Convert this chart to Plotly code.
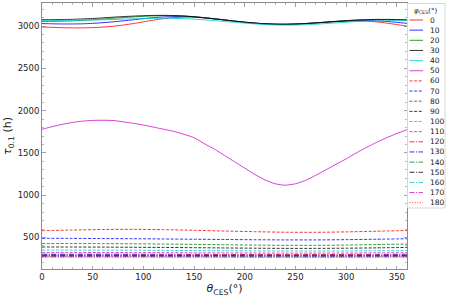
import plotly.graph_objects as go

# ---- data ----
theta = list(range(0, 361, 10))          # theta_CES (deg), fine grid
theta_c = list(range(0, 361, 30))        # coarse grid for the flat curves

phi_labels = ["0", "10", "20", "30", "40", "50", "60", "70", "80", "90",
              "100", "110", "120", "130", "140", "150", "160", "170", "180"]

tau_0 = [2990, 2985, 2981, 2979, 2979, 2982, 2988, 2998, 3012, 3030, 3050, 3070, 3088,
         3100, 3106, 3105, 3097, 3085, 3071, 3057, 3044, 3034, 3027, 3023, 3022, 3025,
         3031, 3038, 3046, 3053, 3058, 3060, 3058, 3050, 3035, 3018, 3000]
tau_10 = [3030, 3027, 3025, 3025, 3027, 3032, 3040, 3050, 3062, 3075, 3088, 3100, 3108,
          3113, 3114, 3110, 3100, 3088, 3074, 3060, 3047, 3036, 3028, 3023, 3022, 3024,
          3029, 3036, 3045, 3053, 3060, 3066, 3066, 3062, 3055, 3044, 3032]
tau_20 = [3055, 3056, 3058, 3062, 3068, 3075, 3083, 3092, 3100, 3108, 3115, 3120, 3123,
          3122, 3118, 3110, 3098, 3085, 3072, 3058, 3045, 3034, 3026, 3021, 3020, 3023,
          3029, 3037, 3046, 3056, 3064, 3071, 3076, 3078, 3077, 3073, 3068]
tau_30 = [3075, 3076, 3078, 3080, 3085, 3090, 3097, 3105, 3112, 3118, 3123, 3126, 3127,
          3125, 3120, 3110, 3098, 3085, 3072, 3058, 3046, 3035, 3027, 3022, 3021, 3024,
          3030, 3038, 3047, 3056, 3064, 3071, 3076, 3079, 3079, 3077, 3075]
tau_40 = [3065, 3066, 3067, 3068, 3070, 3072, 3075, 3078, 3082, 3086, 3089, 3091, 3092,
          3091, 3088, 3082, 3074, 3065, 3055, 3045, 3035, 3026, 3018, 3013, 3011, 3012,
          3016, 3022, 3030, 3038, 3046, 3053, 3058, 3062, 3064, 3065, 3065]
tau_50 = [1780, 1810, 1838, 1860, 1876, 1884, 1886, 1883, 1868, 1850, 1830, 1805, 1780,
          1755, 1720, 1680, 1610, 1545, 1470, 1395, 1320, 1245, 1180, 1135, 1118, 1135,
          1175, 1235, 1300, 1365, 1430, 1500, 1565, 1625, 1680, 1730, 1775]
tau_60 = [580, 588, 594, 596, 592, 585, 576, 568, 562, 561, 566, 574, 582]
tau_70 = [490, 489, 487, 485, 482, 479, 476, 473, 471, 471, 474, 479, 485]
tau_80 = [428, 428, 427, 425, 422, 418, 414, 410, 407, 407, 410, 416, 422]
tau_90 = [387, 387, 386, 384, 382, 379, 376, 373, 371, 371, 373, 377, 382]
tau_100 = [351, 351, 350, 349, 347, 345, 343, 341, 340, 340, 341, 343, 346]
tau_110 = [323, 323, 322, 321, 320, 318, 317, 316, 315, 315, 316, 318, 320]
tau_120 = [303, 303, 303, 302, 301, 300, 299, 298, 298, 298, 299, 300, 302]
tau_130 = [295, 295, 295, 294, 293, 292, 291, 291, 290, 290, 291, 292, 294]
tau_140 = [288, 288, 288, 287, 286, 286, 285, 284, 284, 284, 285, 286, 287]
tau_150 = [282, 282, 282, 281, 281, 280, 280, 279, 279, 279, 279, 280, 281]
tau_160 = [277, 277, 277, 276, 276, 275, 275, 274, 274, 274, 275, 275, 276]
tau_170 = [272, 272, 272, 272, 271, 271, 270, 270, 270, 270, 270, 271, 272]
tau_180 = [268, 268, 268, 268, 267, 267, 267, 266, 266, 266, 267, 267, 268]

series = [tau_0, tau_10, tau_20, tau_30, tau_40, tau_50, tau_60, tau_70, tau_80, tau_90,
          tau_100, tau_110, tau_120, tau_130, tau_140, tau_150, tau_160, tau_170, tau_180]

# ---- styles ----
base_colors = ["rgba(255,0,0,0.8)", "rgba(0,0,255,0.8)", "rgba(0,128,0,0.8)",
               "rgba(0,0,0,0.8)", "rgba(0,200,200,0.8)", "rgba(200,0,200,0.75)"]
dash_styles = ["solid", "3px,1.6px", "5px,1.5px,1px,1.5px", "1px,1.6px"]

def px2paper_x(px):
    return (px - 42) / 365.0

def px2paper_y(py):
    return (269 - py) / 266.0

fig = go.Figure()
shapes = []
annotations = []

for i, (lab, ys) in enumerate(zip(phi_labels, series)):
    color = base_colors[i % 6]
    dash = dash_styles[i // 6]
    xs = theta if len(ys) == len(theta) else theta_c
    fig.add_trace(go.Scatter(
        x=xs, y=ys, mode="lines", name=lab, showlegend=False,
        line=dict(color=color, width=1, dash=dash, shape="spline", smoothing=0.6),
    ))
    # custom compact legend entry
    ey = 20 + 10.15 * i
    shapes.append(dict(type="line", xref="paper", yref="paper",
                       x0=px2paper_x(409.5), x1=px2paper_x(423),
                       y0=px2paper_y(ey), y1=px2paper_y(ey),
                       line=dict(color=color, width=1, dash=dash)))
    annotations.append(dict(xref="paper", yref="paper", x=px2paper_x(427.5),
                            y=px2paper_y(ey), text=lab, showarrow=False,
                            xanchor="left", yanchor="middle",
                            font=dict(size=7.5, color="#222", family="DejaVu Sans")))

# legend box
shapes.insert(0, dict(type="rect", xref="paper", yref="paper",
                      x0=px2paper_x(407.5), x1=px2paper_x(445),
                      y0=px2paper_y(208), y1=px2paper_y(3.5),
                      line=dict(color="#d6d6d6", width=1),
                      fillcolor="rgba(255,255,255,0.85)", layer="above"))
annotations.append(dict(xref="paper", yref="paper", x=px2paper_x(425.5),
                        y=px2paper_y(10.5), text="<i>φ</i><sub>CES</sub>(°)", showarrow=False,
                        xanchor="center", yanchor="middle",
                        font=dict(size=7, color="#222", family="DejaVu Sans")))

axis_common = dict(
    showline=True, linecolor="#8a8a8a", linewidth=1, mirror="allticks",
    ticks="inside", ticklen=3.5, tickwidth=0.8, tickcolor="#8a8a8a",
    showgrid=False, zeroline=False,
    tickfont=dict(size=8.5, color="#222", family="DejaVu Sans"),
)

fig.update_xaxes(
    range=[0, 360], dtick=50, tick0=0,
    minor=dict(dtick=10, ticks="inside", ticklen=2, tickcolor="#8a8a8a", tickwidth=0.6),
    title=dict(text="<i>θ</i><sub>CES</sub>(°)", font=dict(size=11, color="#222", family="DejaVu Sans"),
               standoff=2),
    **axis_common,
)
fig.update_yaxes(
    range=[127, 3273], dtick=500, tick0=0,
    minor=dict(dtick=100, ticks="inside", ticklen=2, tickcolor="#8a8a8a", tickwidth=0.6),
    title=dict(text="<i>τ</i><sub>0.1</sub> (h)", font=dict(size=11, color="#222", family="DejaVu Sans"),
               standoff=3),
    **axis_common,
)

fig.update_layout(
    width=449, height=299,
    margin=dict(l=42, r=42, t=3, b=30, autoexpand=False),
    paper_bgcolor="white", plot_bgcolor="white",
    shapes=shapes, annotations=annotations,
    showlegend=False, hovermode=False,
)

fig.write_html("out.html",
               config={"displayModeBar": False, "staticPlot": True},
               post_script="document.body.style.margin='0';document.body.style.overflow='hidden';")
